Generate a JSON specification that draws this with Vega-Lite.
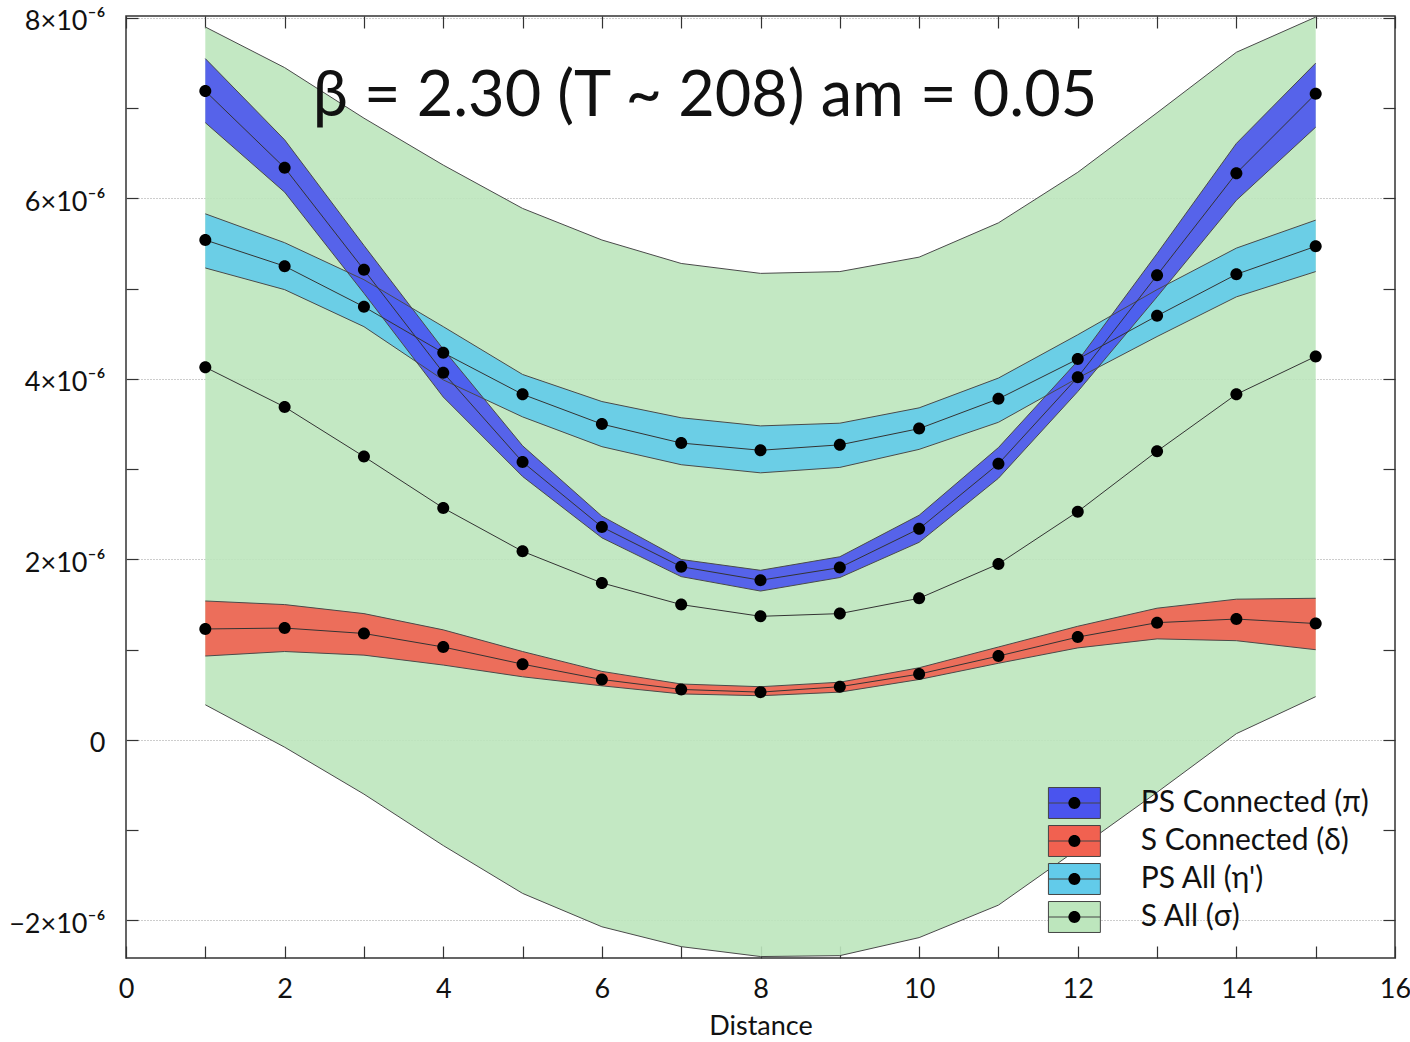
{
  "$schema": "https://vega.github.io/schema/vega-lite/v6.json",
  "width": 1269,
  "height": 942,
  "autosize": "none",
  "padding": {"left": 126, "top": 16, "right": 15, "bottom": 84},
  "background": "white",
  "config": {
    "view": {"stroke": "#333", "strokeWidth": 1.5},
    "font": "Lato",
    "axis": {"labelFont": "Lato", "titleFont": "Lato", "labelColor": "#111", "titleColor": "#111"},
    "legend": {"labelFont": "Lato"}
  },
  "data": {
    "values": [
      {"s": "S All (σ)", "x": 1, "y": 4.13e-6, "lo": 0.39e-6, "hi": 7.90e-6},
      {"s": "S All (σ)", "x": 2, "y": 3.69e-6, "lo": -0.08e-6, "hi": 7.45e-6},
      {"s": "S All (σ)", "x": 3, "y": 3.14e-6, "lo": -0.60e-6, "hi": 6.89e-6},
      {"s": "S All (σ)", "x": 4, "y": 2.57e-6, "lo": -1.17e-6, "hi": 6.37e-6},
      {"s": "S All (σ)", "x": 5, "y": 2.09e-6, "lo": -1.70e-6, "hi": 5.89e-6},
      {"s": "S All (σ)", "x": 6, "y": 1.74e-6, "lo": -2.07e-6, "hi": 5.54e-6},
      {"s": "S All (σ)", "x": 7, "y": 1.50e-6, "lo": -2.29e-6, "hi": 5.28e-6},
      {"s": "S All (σ)", "x": 8, "y": 1.37e-6, "lo": -2.40e-6, "hi": 5.17e-6},
      {"s": "S All (σ)", "x": 9, "y": 1.40e-6, "lo": -2.39e-6, "hi": 5.19e-6},
      {"s": "S All (σ)", "x": 10, "y": 1.57e-6, "lo": -2.19e-6, "hi": 5.35e-6},
      {"s": "S All (σ)", "x": 11, "y": 1.95e-6, "lo": -1.83e-6, "hi": 5.73e-6},
      {"s": "S All (σ)", "x": 12, "y": 2.53e-6, "lo": -1.21e-6, "hi": 6.29e-6},
      {"s": "S All (σ)", "x": 13, "y": 3.20e-6, "lo": -0.58e-6, "hi": 6.95e-6},
      {"s": "S All (σ)", "x": 14, "y": 3.83e-6, "lo": 0.07e-6, "hi": 7.62e-6},
      {"s": "S All (σ)", "x": 15, "y": 4.25e-6, "lo": 0.48e-6, "hi": 8.01e-6},

      {"s": "PS All (η')", "x": 1, "y": 5.54e-6, "lo": 5.23e-6, "hi": 5.83e-6},
      {"s": "PS All (η')", "x": 2, "y": 5.25e-6, "lo": 4.99e-6, "hi": 5.51e-6},
      {"s": "PS All (η')", "x": 3, "y": 4.80e-6, "lo": 4.58e-6, "hi": 5.10e-6},
      {"s": "PS All (η')", "x": 4, "y": 4.29e-6, "lo": 3.99e-6, "hi": 4.58e-6},
      {"s": "PS All (η')", "x": 5, "y": 3.83e-6, "lo": 3.58e-6, "hi": 4.05e-6},
      {"s": "PS All (η')", "x": 6, "y": 3.50e-6, "lo": 3.25e-6, "hi": 3.75e-6},
      {"s": "PS All (η')", "x": 7, "y": 3.29e-6, "lo": 3.05e-6, "hi": 3.57e-6},
      {"s": "PS All (η')", "x": 8, "y": 3.21e-6, "lo": 2.96e-6, "hi": 3.48e-6},
      {"s": "PS All (η')", "x": 9, "y": 3.27e-6, "lo": 3.02e-6, "hi": 3.51e-6},
      {"s": "PS All (η')", "x": 10, "y": 3.45e-6, "lo": 3.22e-6, "hi": 3.68e-6},
      {"s": "PS All (η')", "x": 11, "y": 3.78e-6, "lo": 3.52e-6, "hi": 4.01e-6},
      {"s": "PS All (η')", "x": 12, "y": 4.22e-6, "lo": 4.01e-6, "hi": 4.49e-6},
      {"s": "PS All (η')", "x": 13, "y": 4.70e-6, "lo": 4.47e-6, "hi": 4.99e-6},
      {"s": "PS All (η')", "x": 14, "y": 5.16e-6, "lo": 4.91e-6, "hi": 5.45e-6},
      {"s": "PS All (η')", "x": 15, "y": 5.47e-6, "lo": 5.19e-6, "hi": 5.76e-6},

      {"s": "S Connected (δ)", "x": 1, "y": 1.23e-6, "lo": 0.93e-6, "hi": 1.54e-6},
      {"s": "S Connected (δ)", "x": 2, "y": 1.24e-6, "lo": 0.98e-6, "hi": 1.50e-6},
      {"s": "S Connected (δ)", "x": 3, "y": 1.18e-6, "lo": 0.94e-6, "hi": 1.40e-6},
      {"s": "S Connected (δ)", "x": 4, "y": 1.03e-6, "lo": 0.83e-6, "hi": 1.22e-6},
      {"s": "S Connected (δ)", "x": 5, "y": 0.84e-6, "lo": 0.70e-6, "hi": 0.98e-6},
      {"s": "S Connected (δ)", "x": 6, "y": 0.67e-6, "lo": 0.60e-6, "hi": 0.76e-6},
      {"s": "S Connected (δ)", "x": 7, "y": 0.56e-6, "lo": 0.51e-6, "hi": 0.62e-6},
      {"s": "S Connected (δ)", "x": 8, "y": 0.53e-6, "lo": 0.49e-6, "hi": 0.59e-6},
      {"s": "S Connected (δ)", "x": 9, "y": 0.59e-6, "lo": 0.53e-6, "hi": 0.64e-6},
      {"s": "S Connected (δ)", "x": 10, "y": 0.73e-6, "lo": 0.67e-6, "hi": 0.80e-6},
      {"s": "S Connected (δ)", "x": 11, "y": 0.93e-6, "lo": 0.85e-6, "hi": 1.03e-6},
      {"s": "S Connected (δ)", "x": 12, "y": 1.14e-6, "lo": 1.02e-6, "hi": 1.26e-6},
      {"s": "S Connected (δ)", "x": 13, "y": 1.30e-6, "lo": 1.12e-6, "hi": 1.46e-6},
      {"s": "S Connected (δ)", "x": 14, "y": 1.34e-6, "lo": 1.10e-6, "hi": 1.56e-6},
      {"s": "S Connected (δ)", "x": 15, "y": 1.29e-6, "lo": 1.00e-6, "hi": 1.57e-6},

      {"s": "PS Connected (π)", "x": 1, "y": 7.19e-6, "lo": 6.84e-6, "hi": 7.55e-6},
      {"s": "PS Connected (π)", "x": 2, "y": 6.34e-6, "lo": 6.07e-6, "hi": 6.65e-6},
      {"s": "PS Connected (π)", "x": 3, "y": 5.21e-6, "lo": 4.95e-6, "hi": 5.48e-6},
      {"s": "PS Connected (π)", "x": 4, "y": 4.07e-6, "lo": 3.80e-6, "hi": 4.33e-6},
      {"s": "PS Connected (π)", "x": 5, "y": 3.08e-6, "lo": 2.92e-6, "hi": 3.26e-6},
      {"s": "PS Connected (π)", "x": 6, "y": 2.36e-6, "lo": 2.24e-6, "hi": 2.48e-6},
      {"s": "PS Connected (π)", "x": 7, "y": 1.92e-6, "lo": 1.81e-6, "hi": 2.00e-6},
      {"s": "PS Connected (π)", "x": 8, "y": 1.77e-6, "lo": 1.65e-6, "hi": 1.88e-6},
      {"s": "PS Connected (π)", "x": 9, "y": 1.91e-6, "lo": 1.80e-6, "hi": 2.03e-6},
      {"s": "PS Connected (π)", "x": 10, "y": 2.34e-6, "lo": 2.19e-6, "hi": 2.49e-6},
      {"s": "PS Connected (π)", "x": 11, "y": 3.06e-6, "lo": 2.90e-6, "hi": 3.24e-6},
      {"s": "PS Connected (π)", "x": 12, "y": 4.02e-6, "lo": 3.86e-6, "hi": 4.20e-6},
      {"s": "PS Connected (π)", "x": 13, "y": 5.15e-6, "lo": 4.91e-6, "hi": 5.39e-6},
      {"s": "PS Connected (π)", "x": 14, "y": 6.28e-6, "lo": 5.98e-6, "hi": 6.61e-6},
      {"s": "PS Connected (π)", "x": 15, "y": 7.16e-6, "lo": 6.79e-6, "hi": 7.50e-6}
    ]
  },
  "layer": [
    {
      "mark": {"type": "area", "opacity": 0.9, "clip": true},
      "encoding": {
        "x": {
          "field": "x", "type": "quantitative",
          "scale": {"domain": [0, 16], "nice": false, "zero": false},
          "axis": {
            "orient": "bottom",
            "values": [0, 1, 2, 3, 4, 5, 6, 7, 8, 9, 10, 11, 12, 13, 14, 15, 16],
            "labelExpr": "datum.value % 2 === 0 ? datum.label : ''",
            "labelOverlap": false,
            "labelFlush": false,
            "ticks": true,
            "tickSize": -12,
            "tickColor": "#333",
            "tickWidth": 1.2,
            "domain": false,
            "grid": false,
            "labelFontSize": 27,
            "labelPadding": 30,
            "title": "Distance",
            "titleFontSize": 27,
            "titleFontWeight": "normal",
            "titlePadding": 11,
            "encode": {"ticks": {"y2": {"condition": {"test": "datum.value % 2 === 0", "value": -12}, "value": -6}}}
          }
        },
        "y": {
          "field": "lo", "type": "quantitative",
          "scale": {"domain": [-2.416e-6, 8.022e-6], "nice": false, "zero": false},
          "axis": {
            "orient": "left",
            "values": [-2e-6, -1e-6, 0, 1e-6, 2e-6, 3e-6, 4e-6, 5e-6, 6e-6, 7e-6, 8e-6],
            "labelExpr": "(round(datum.value*1e6) % 2 !== 0) ? '' : (round(datum.value*1e6) === 0 ? '0' : format(round(datum.value*1e6), 'd') + '×10⁻⁶')",
            "labelOverlap": false,
            "labelFlush": false,
            "labelOffset": 4,
            "ticks": true,
            "tickSize": -12,
            "tickColor": "#333",
            "tickWidth": 1.2,
            "domain": false,
            "grid": true,
            "gridColor": "#9a9a9a",
            "gridDash": [1, 2],
            "gridWidth": 1,
            "gridOpacity": {"condition": {"test": "round(datum.value*1e6) % 2 === 0", "value": 1}, "value": 0},
            "labelFontSize": 27,
            "labelPadding": 33,
            "title": null,
            "encode": {"ticks": {"x2": {"condition": {"test": "round(datum.value*1e6) % 2 === 0", "value": 12}, "value": 6}}}
          }
        },
        "y2": {"field": "hi"},
        "fill": {
          "field": "s", "type": "nominal",
          "scale": {
            "domain": ["PS Connected (π)", "S Connected (δ)", "PS All (η')", "S All (σ)"],
            "range": ["#4a54ee", "#f16150", "#62cbea", "#bde6bd"]
          },
          "legend": {
            "orient": "none",
            "legendX": 928.4,
            "legendY": 767,
            "title": null,
            "padding": 0,
            "symbolType": "M-1.36,-0.81H1.36V0.81H-1.36ZM-1.36,0H1.36",
            "symbolSize": 1459,
            "symbolStrokeColor": "#444",
            "symbolStrokeWidth": 1,
            "symbolOpacity": 1,
            "labelFontSize": 30,
            "labelOffset": 46.4,
            "labelColor": "#111",
            "labelLimit": 400,
            "rowPadding": 0
          }
        }
      }
    },
    {
      "mark": {"type": "line", "color": "#4a4a4a", "strokeWidth": 1, "clip": true},
      "encoding": {
        "x": {
          "field": "x", "type": "quantitative",
          "scale": {"domain": [0, 16], "nice": false, "zero": false},
          "axis": {
            "orient": "top",
            "values": [0, 1, 2, 3, 4, 5, 6, 7, 8, 9, 10, 11, 12, 13, 14, 15, 16],
            "labels": false,
            "ticks": true,
            "tickSize": -12,
            "tickColor": "#333",
            "tickWidth": 1.2,
            "domain": false,
            "grid": false,
            "title": null,
            "encode": {"ticks": {"y2": {"condition": {"test": "datum.value % 2 === 0", "value": 12}, "value": 6}}}
          }
        },
        "y": {
          "field": "hi", "type": "quantitative",
          "scale": {"domain": [-2.416e-6, 8.022e-6], "nice": false, "zero": false},
          "axis": {
            "orient": "right",
            "values": [-2e-6, -1e-6, 0, 1e-6, 2e-6, 3e-6, 4e-6, 5e-6, 6e-6, 7e-6, 8e-6],
            "labels": false,
            "ticks": true,
            "tickSize": -12,
            "tickColor": "#333",
            "tickWidth": 1.2,
            "domain": false,
            "grid": false,
            "title": null,
            "encode": {"ticks": {"x2": {"condition": {"test": "round(datum.value*1e6) % 2 === 0", "value": -12}, "value": -6}}}
          }
        },
        "detail": {"field": "s"}
      }
    },
    {
      "mark": {"type": "line", "color": "#4a4a4a", "strokeWidth": 1, "clip": true},
      "encoding": {
        "x": {"field": "x", "type": "quantitative", "scale": {"domain": [0, 16], "nice": false, "zero": false}, "axis": null},
        "y": {"field": "lo", "type": "quantitative", "scale": {"domain": [-2.416e-6, 8.022e-6], "nice": false, "zero": false}, "axis": null},
        "detail": {"field": "s"}
      }
    },
    {
      "mark": {"type": "line", "color": "#333", "strokeWidth": 1, "clip": true},
      "encoding": {
        "x": {"field": "x", "type": "quantitative", "scale": {"domain": [0, 16], "nice": false, "zero": false}, "axis": null},
        "y": {"field": "y", "type": "quantitative", "scale": {"domain": [-2.416e-6, 8.022e-6], "nice": false, "zero": false}, "axis": null},
        "detail": {"field": "s"}
      }
    },
    {
      "mark": {"type": "point", "filled": true, "color": "black", "opacity": 1, "size": 1459, "strokeWidth": 0},
      "encoding": {
        "x": {"field": "x", "type": "quantitative", "scale": {"domain": [0, 16], "nice": false, "zero": false}, "axis": null},
        "y": {"field": "y", "type": "quantitative", "scale": {"domain": [-2.416e-6, 8.022e-6], "nice": false, "zero": false}, "axis": null},
        "shape": {
          "field": "s", "type": "nominal",
          "scale": {
            "range": [
              "M-1.36,-0.81M1.36,0.81M-0.314,0A0.314,0.314,0,1,1,0.314,0A0.314,0.314,0,1,1,-0.314,0Z",
              "M-1.36,-0.81M1.36,0.81M-0.314,0A0.314,0.314,0,1,1,0.314,0A0.314,0.314,0,1,1,-0.314,0Z",
              "M-1.36,-0.81M1.36,0.81M-0.314,0A0.314,0.314,0,1,1,0.314,0A0.314,0.314,0,1,1,-0.314,0Z",
              "M-1.36,-0.81M1.36,0.81M-0.314,0A0.314,0.314,0,1,1,0.314,0A0.314,0.314,0,1,1,-0.314,0Z"
            ]
          },
          "legend": {
            "orient": "none",
            "legendX": 928.4,
            "legendY": 767,
            "title": null,
            "padding": 0,
            "symbolSize": 1459,
            "symbolFillColor": "black",
            "symbolStrokeColor": "transparent",
            "symbolStrokeWidth": 1,
            "symbolOpacity": 1,
            "labelFontSize": 30,
            "labelOffset": 46.4,
            "labelColor": "transparent",
            "labelLimit": 400,
            "rowPadding": 0
          }
        }
      }
    },
    {
      "data": {"values": [{}]},
      "mark": {"type": "text", "text": "β = 2.30 (T ~ 208) am = 0.05", "fontSize": 63, "font": "Lato", "align": "center", "baseline": "middle", "color": "#111"},
      "encoding": {
        "x": {"datum": 7.3, "type": "quantitative", "scale": {"domain": [0, 16], "nice": false, "zero": false}, "axis": null},
        "y": {"datum": 7.12e-6, "type": "quantitative", "scale": {"domain": [-2.416e-6, 8.022e-6], "nice": false, "zero": false}, "axis": null}
      }
    }
  ],
  "resolve": {"axis": {"x": "independent", "y": "independent"}}
}
